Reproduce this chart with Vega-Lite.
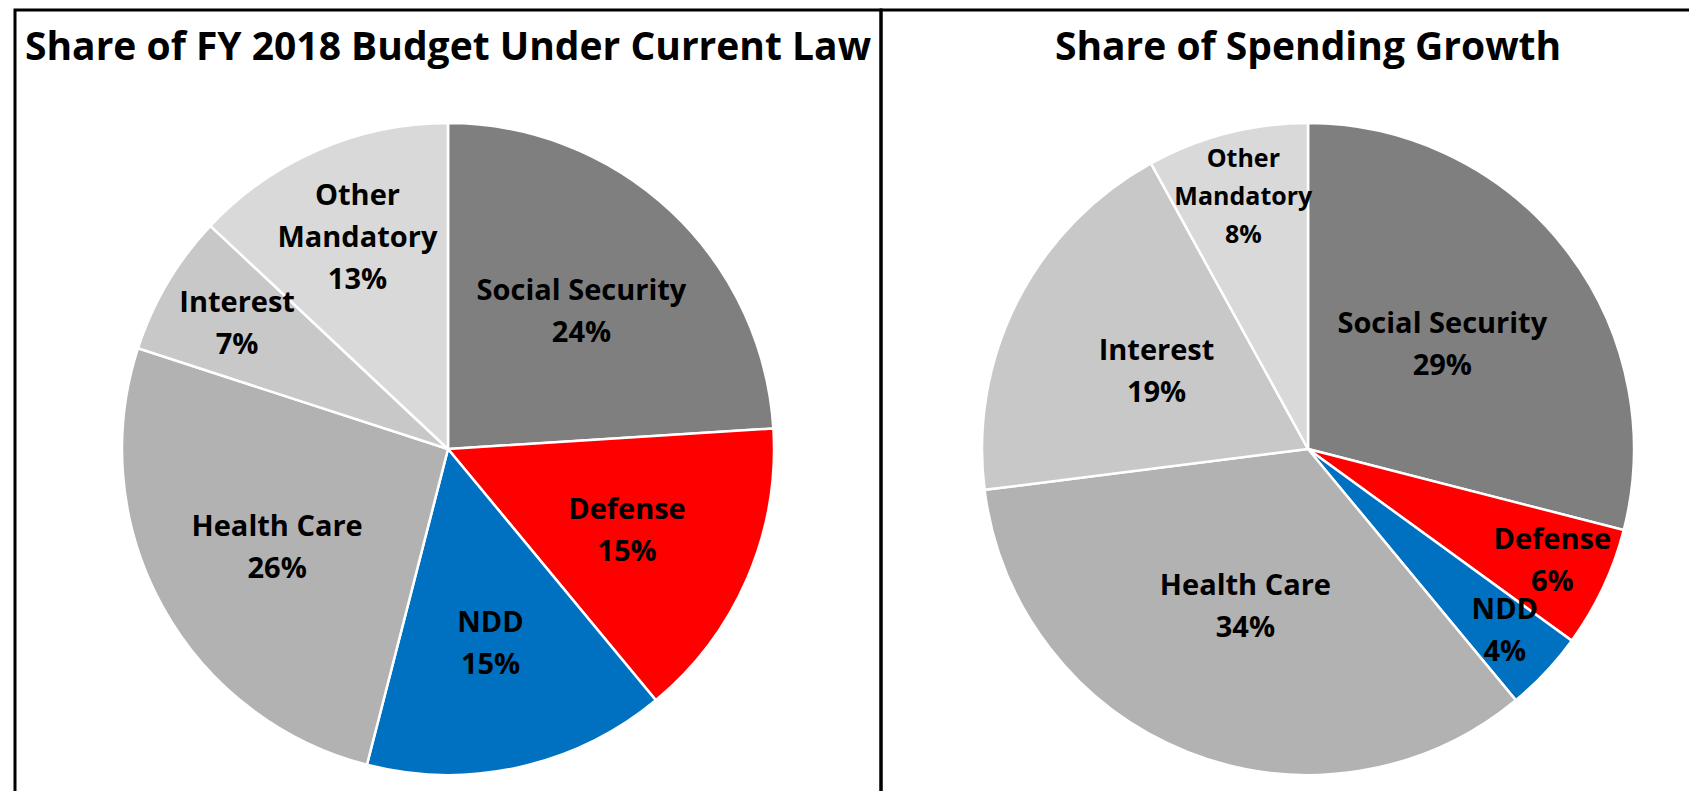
{
  "$schema": "https://vega.github.io/schema/vega-lite/v6.json",
  "padding": {"left": 13, "top": 8, "right": 0, "bottom": 0},
  "background": "white",
  "spacing": 0,
  "bounds": "flush",
  "config": {
    "view": {"stroke": null},
    "title": {"font": "Open Sans", "fontWeight": "bold", "fontSize": 39, "color": "black", "baseline": "alphabetic", "offset": -59},
    "text": {"font": "Open Sans", "fontWeight": "bold", "fontSize": 29, "lineHeight": 42, "lineBreak": "\n", "baseline": "middle", "align": "center", "color": "black"}
  },
  "datasets": {
    "budget": [
      {"category": "Social Security", "share": 24, "label": "Social Security\n24%"},
      {"category": "Defense", "share": 15, "label": "Defense\n15%"},
      {"category": "NDD", "share": 15, "label": "NDD\n15%"},
      {"category": "Health Care", "share": 26, "label": "Health Care\n26%"},
      {"category": "Interest", "share": 7, "label": "Interest\n7%"},
      {"category": "Other Mandatory", "share": 13, "label": "Other\nMandatory\n13%"}
    ],
    "growth": [
      {"category": "Social Security", "share": 29, "label": "Social Security\n29%"},
      {"category": "Defense", "share": 6, "label": "Defense\n6%"},
      {"category": "NDD", "share": 4, "label": "NDD\n4%"},
      {"category": "Health Care", "share": 34, "label": "Health Care\n34%"},
      {"category": "Interest", "share": 19, "label": "Interest\n19%"},
      {"category": "Other Mandatory", "share": 8, "label": "Other\nMandatory\n8%"}
    ]
  },
  "hconcat": [
    {
      "width": 866,
      "height": 878,
      "title": {"text": "Share of FY 2018 Budget Under Current Law"},
      "layer": [
        {
          "data": {"values": [{}]},
          "mark": {"type": "rect", "fill": null, "stroke": "black", "strokeWidth": 3},
          "encoding": {}
        },
        {
          "data": {"name": "budget"},
          "transform": [{"window": [{"op": "row_number", "as": "rank"}]}],
          "encoding": {
            "theta": {"field": "share", "type": "quantitative", "stack": true},
            "order": {"field": "rank", "type": "quantitative"}
          },
          "layer": [
            {
              "mark": {"type": "arc", "radius": 326, "stroke": "white", "strokeWidth": 2.5},
              "encoding": {
                "color": {"field": "category", "type": "nominal", "legend": null,
                  "scale": {"domain": ["Social Security", "Defense", "NDD", "Health Care", "Interest", "Other Mandatory"],
                            "range": ["#7f7f7f", "#ff0000", "#0070c0", "#b2b2b2", "#c8c8c8", "#d9d9d9"]}}
              }
            },
            {
              "mark": {"type": "text", "radius": 195, "dy": -16},
              "encoding": {
                "text": {"condition": {"test": "datum.share >= 10 && length(split(datum.label, '\\n')) < 3", "field": "label"}, "value": ""}
              }
            },
            {
              "mark": {"type": "text", "radius": 245, "dy": -21},
              "encoding": {
                "text": {"condition": {"test": "datum.share < 10 && length(split(datum.label, '\\n')) < 3", "field": "label"}, "value": ""}
              }
            },
            {
              "mark": {"type": "text", "radius": 228, "dy": -44},
              "encoding": {
                "text": {"condition": {"test": "length(split(datum.label, '\\n')) >= 3", "field": "label"}, "value": ""}
              }
            }
          ]
        }
      ]
    },
    {
      "width": 854,
      "height": 878,
      "title": {"text": "Share of Spending Growth"},
      "layer": [
        {
          "data": {"values": [{}]},
          "mark": {"type": "rect", "fill": null, "stroke": "black", "strokeWidth": 3},
          "encoding": {}
        },
        {
          "data": {"name": "growth"},
          "transform": [{"window": [{"op": "row_number", "as": "rank"}]}],
          "encoding": {
            "theta": {"field": "share", "type": "quantitative", "stack": true},
            "order": {"field": "rank", "type": "quantitative"}
          },
          "layer": [
            {
              "mark": {"type": "arc", "radius": 326, "stroke": "white", "strokeWidth": 2.5},
              "encoding": {
                "color": {"field": "category", "type": "nominal", "legend": null,
                  "scale": {"domain": ["Social Security", "Defense", "NDD", "Health Care", "Interest", "Other Mandatory"],
                            "range": ["#7f7f7f", "#ff0000", "#0070c0", "#b2b2b2", "#c8c8c8", "#d9d9d9"]}}
              }
            },
            {
              "mark": {"type": "text", "radius": 170, "dy": -21},
              "encoding": {
                "text": {"condition": {"test": "datum.share >= 10 && length(split(datum.label, '\\n')) < 3", "field": "label"}, "value": ""}
              }
            },
            {
              "mark": {"type": "text", "radius": 270, "dy": -24},
              "encoding": {
                "text": {"condition": {"test": "datum.share < 10 && length(split(datum.label, '\\n')) < 3", "field": "label"}, "value": ""}
              }
            },
            {
              "mark": {"type": "text", "radius": 260, "dy": -38, "fontSize": 25, "lineHeight": 38},
              "encoding": {
                "text": {"condition": {"test": "length(split(datum.label, '\\n')) >= 3", "field": "label"}, "value": ""}
              }
            }
          ]
        }
      ]
    }
  ]
}
